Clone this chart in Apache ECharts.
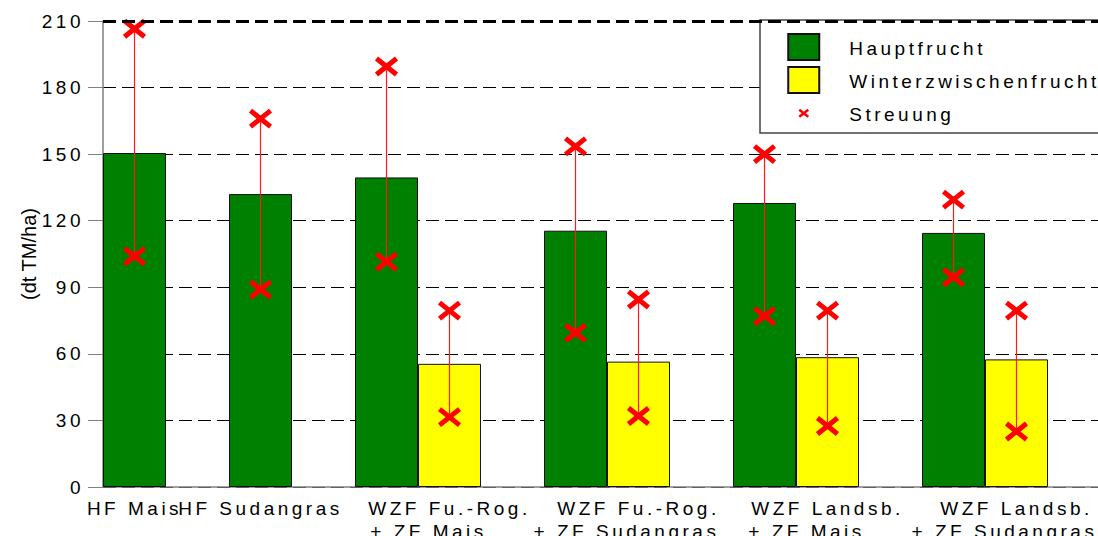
<!DOCTYPE html>
<html>
<head>
<meta charset="utf-8">
<script src="https://cdn.jsdelivr.net/npm/echarts@6/dist/echarts.min.js"></script>
<style>
html, body { margin: 0; padding: 0; background: #ffffff; }
#chart { width: 1098px; height: 536px; }
#chart text { letter-spacing: 3.5px; }
</style>
</head>
<body>
<div id="chart"></div>
<script>
// ---------------- data ----------------
const categories = [
  'HF Mais',
  'HF Sudangras',
  'WZF Fu.-Rog.\n+ ZF Mais',
  'WZF Fu.-Rog.\n+ ZF Sudangras',
  'WZF Landsb.\n+ ZF Mais',
  'WZF Landsb.\n+ ZF Sudangras'
];
const hauptfrucht          = [150.5, 132, 139.5, 115.5, 128, 114.5];
const winterzwischenfrucht = [null, null, 55.5, 56.5, 58.5, 57.5];
const streuungHauptMin     = [104, 89, 101.5, 69.5, 77, 94.5];
const streuungHauptMax     = [206.5, 166, 189.5, 153.5, 150, 129.5];
const streuungWinterMin    = [null, null, 31.5, 32, 27.5, 25];
const streuungWinterMax    = [null, null, 79.5, 84.5, 79.5, 79.5];
const seriesNames = ['Hauptfrucht', 'Winterzwischenfrucht', 'Streuung'];
const yAxisName = '(dt TM/ha)';
const yMin = 0, yMax = 210, yInterval = 30;

// ---------------- styles ----------------
const FONT = '"Liberation Sans", Arial, sans-serif';
const FS = 19;
const SLOT_PX = 63;
const secondLineShift = { '+ ZF Mais': 42, '+ ZF Sudangras': 24 };

// ---------------- slot layout (bar positions on category axis) ----------------
let slot = 0;
const hauptSlot = [], winterSlot = [], labelSlot = [];
categories.forEach((c, i) => {
  hauptSlot[i] = slot++;
  winterSlot[i] = slot++;
  if (winterzwischenfrucht[i] != null) slot++;
  labelSlot[i] = winterzwischenfrucht[i] != null ? winterSlot[i] : hauptSlot[i];
});
const slotCount = slot;
const slotNames = Array.from({ length: slotCount }, (_, k) => 's' + k);
const labelBySlot = {};
categories.forEach((c, i) => { labelBySlot[labelSlot[i]] = c; });

const hauptData = new Array(slotCount).fill(null);
const winterData = new Array(slotCount).fill(null);
categories.forEach((c, i) => {
  hauptData[hauptSlot[i]] = hauptfrucht[i];
  if (winterzwischenfrucht[i] != null) winterData[winterSlot[i]] = winterzwischenfrucht[i];
});
const streuData = [];
categories.forEach((c, i) => {
  streuData.push([hauptSlot[i], streuungHauptMin[i], streuungHauptMax[i]]);
  if (streuungWinterMin[i] != null) streuData.push([winterSlot[i], streuungWinterMin[i], streuungWinterMax[i]]);
});

// ---------------- chart ----------------
const chart = echarts.init(document.getElementById('chart'), null, { renderer: 'svg' });

function cross(p, a, b) {
  return [
    { type: 'line', shape: { x1: p[0] - a, y1: p[1] - b, x2: p[0] + a, y2: p[1] + b }, style: { stroke: '#ff0000', lineWidth: 5 } },
    { type: 'line', shape: { x1: p[0] + a, y1: p[1] - b, x2: p[0] - a, y2: p[1] + b }, style: { stroke: '#ff0000', lineWidth: 5 } }
  ];
}

const option = {
  animation: false,
  backgroundColor: '#ffffff',
  textStyle: { fontFamily: FONT, color: '#000' },
  grid: { left: 103, top: 21, bottom: 49, width: slotCount * SLOT_PX, outerBoundsMode: 'none', containLabel: false },
  xAxis: {
    type: 'category',
    data: slotNames,
    boundaryGap: true,
    axisLine: { show: true, lineStyle: { color: '#808080', width: 1.5 } },
    axisTick: { show: false },
    splitLine: { show: false },
    axisLabel: {
      interval: 0,
      margin: 10,
      color: '#000',
      fontSize: FS,
      fontFamily: FONT,
      formatter: (v, idx) => {
        const lab = labelBySlot[idx];
        if (!lab) return '';
        const parts = lab.split('\n');
        if (parts.length === 1) return '{a|' + parts[0] + '}';
        return '{a|' + parts[0] + '}\n{' + (secondLineShift[parts[1]] === 42 ? 'm' : 's') + '|' + parts[1] + '}';
      },
      rich: {
        a: { fontSize: FS, lineHeight: 23, color: '#000', fontFamily: FONT },
        m: { fontSize: FS, lineHeight: 23, color: '#000', fontFamily: FONT, padding: [0, secondLineShift['+ ZF Mais'], 0, 0] },
        s: { fontSize: FS, lineHeight: 23, color: '#000', fontFamily: FONT, padding: [0, secondLineShift['+ ZF Sudangras'], 0, 0] }
      }
    }
  },
  yAxis: {
    type: 'value',
    min: yMin, max: yMax, interval: yInterval,
    name: yAxisName,
    nameLocation: 'middle',
    nameGap: 64,
    nameTextStyle: { fontSize: 20, color: '#000', fontFamily: FONT },
    axisLine: { show: true, lineStyle: { color: '#808080', width: 1.5 } },
    axisTick: { show: true, length: 15, lineStyle: { color: '#808080', width: 1 } },
    axisLabel: { fontSize: FS, color: '#000', margin: 19, fontFamily: FONT },
    splitLine: { show: true, lineStyle: { type: [13, 6], color: '#000', width: 1 } }
  },
  legend: {
    orient: 'vertical',
    left: 782, top: 28,
    itemWidth: 31, itemHeight: 26, itemGap: 5,
    selectedMode: false,
    z: 6,
    data: [
      { name: seriesNames[0], icon: 'rect' },
      { name: seriesNames[1], icon: 'rect' },
      { name: seriesNames[2], icon: 'path://M0 0M31 26M11 9.5L20 16.5M20 9.5L11 16.5',
        itemStyle: { color: '#ff0000', borderColor: '#ff0000', borderWidth: 2.5 } }
    ],
    formatter: n => '{t|' + n + '}',
    textStyle: { rich: { t: { fontSize: FS, lineHeight: 20, color: '#000', fontFamily: FONT, padding: [2, 0, 0, 25] } } }
  },
  graphic: [
    { type: 'rect', z: 5, shape: { x: 760, y: 20, width: 400, height: 113 },
      style: { fill: '#ffffff', stroke: '#444444', lineWidth: 1.5 } }
  ],
  series: [
    {
      name: seriesNames[0], type: 'bar', data: hauptData,
      barCategoryGap: '0%', barGap: '-100%',
      itemStyle: { color: '#008000', borderColor: '#111111', borderWidth: 1 },
      emphasis: { disabled: true },
      markLine: {
        silent: true, symbol: 'none', label: { show: false },
        lineStyle: { type: [13, 6], color: '#000', width: 3 },
        data: [{ yAxis: yMax }]
      }
    },
    {
      name: seriesNames[1], type: 'bar', data: winterData,
      barCategoryGap: '0%', barGap: '-100%',
      itemStyle: { color: '#ffff00', borderColor: '#111111', borderWidth: 1 },
      emphasis: { disabled: true }
    },
    {
      name: seriesNames[2], type: 'custom', z: 4,
      data: streuData,
      encode: { x: 0, y: [1, 2] },
      itemStyle: { color: '#ff0000' },
      renderItem: (params, api) => {
        const x = api.value(0);
        const pL = api.coord([x, api.value(1)]);
        const pH = api.coord([x, api.value(2)]);
        return {
          type: 'group',
          children: [
            { type: 'line', shape: { x1: pL[0], y1: pL[1], x2: pH[0], y2: pH[1] }, style: { stroke: '#ff1a1a', lineWidth: 1.2 } }
          ].concat(cross(pL, 10, 8), cross(pH, 10, 8))
        };
      }
    }
  ]
};
chart.setOption(option);
function fixName() {
  document.querySelectorAll('#chart text').forEach(t => {
    if (t.textContent === yAxisName) t.style.letterSpacing = '0px';
  });
}
chart.on('finished', fixName);
setTimeout(fixName, 50);
</script>
</body>
</html>
